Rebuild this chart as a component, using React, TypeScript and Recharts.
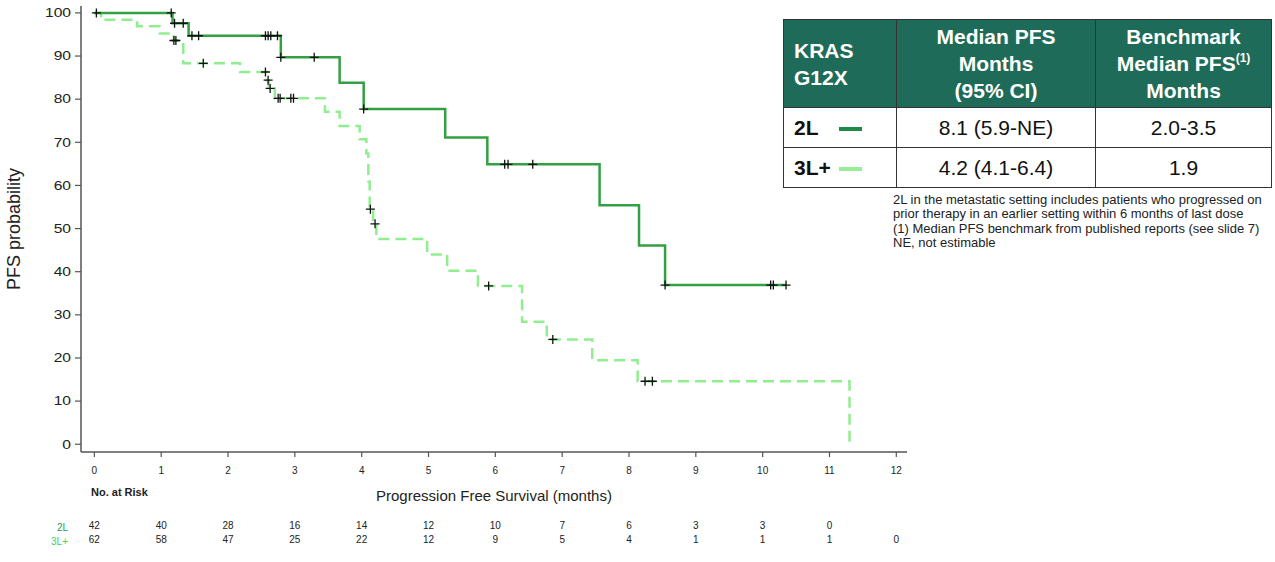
import React from 'react';
import { ComposedChart, Line, Scatter, XAxis, YAxis, Label } from 'recharts';

const xTicks = [0, 1, 2, 3, 4, 5, 6, 7, 8, 9, 10, 11, 12];
const yTicks = [0, 10, 20, 30, 40, 50, 60, 70, 80, 90, 100];

// 2L curve (solid)
const l2Times = [0, 1.17, 1.41, 2.79, 3.67, 4.03, 5.25, 5.88, 7.56, 8.15, 8.54, 10.35];
const l2Surv = [100, 97.6, 94.7, 89.7, 83.8, 77.7, 71.1, 64.9, 55.4, 46.1, 36.9, 36.9];
const l2CensorTimes = [0.03, 1.15, 1.2, 1.33, 1.46, 1.56, 2.56, 2.6, 2.64, 2.74, 2.79, 3.29, 4.03, 6.14, 6.19, 6.56, 8.54, 10.12, 10.16, 10.35];
const l2CensorSurv = [100, 100, 97.6, 97.6, 94.7, 94.7, 94.7, 94.7, 94.7, 94.7, 89.7, 89.7, 77.7, 64.9, 64.9, 64.9, 36.9, 36.9, 36.9, 36.9];

// 3L+ curve (dashed)
const l3Times = [0, 0.1, 0.64, 0.98, 1.19, 1.33, 2.18, 2.58, 2.61, 2.7, 3.45, 3.67, 3.97, 4.07, 4.1, 4.12, 4.17, 4.22, 4.98, 5.28, 5.74, 6.4, 6.77, 7.45, 8.13, 11.3];
const l3Surv = [100, 98.4, 96.9, 95.2, 93.6, 88.3, 86.3, 84.4, 82.5, 80.2, 77.1, 73.8, 70.7, 67.4, 60.9, 54.5, 51.1, 47.6, 44.0, 40.2, 36.7, 28.4, 24.3, 19.5, 14.6, 0];
const l3CensorTimes = [1.19, 1.22, 1.63, 2.56, 2.6, 2.63, 2.75, 2.78, 2.94, 2.98, 4.13, 4.2, 5.9, 6.86, 8.24, 8.35];
const l3CensorSurv = [93.6, 93.6, 88.3, 86.3, 84.4, 82.5, 80.2, 80.2, 80.2, 80.2, 54.5, 51.1, 36.7, 24.3, 14.6, 14.6];

// number at risk, one per month tick
const risk2L = [42, 40, 28, 16, 14, 12, 10, 7, 6, 3, 3, 0];
const risk3L = [62, 58, 47, 25, 22, 12, 9, 5, 4, 1, 1, 1, 0];

const footnotes = [
    '2L in the metastatic setting includes patients who progressed on',
    'prior therapy in an earlier setting within 6 months of last dose',
    '(1) Median PFS benchmark from published reports (see slide 7)',
    'NE, not estimable',
];

const FONT = '"Liberation Sans", Arial, Helvetica, sans-serif';
const DARK = '#33a043';
const LIGHT = '#90ee90';

const toPoints = (ts: number[], ss: number[]) => ts.map((t, i) => ({ t, s: ss[i] }));

const Cross = (props: any) => {
    const { cx, cy } = props;
    if (cx == null || cy == null) return null;
    return (
        <path
            d={`M${cx - 4.5},${cy}H${cx + 4.5}M${cx},${cy - 4.5}V${cy + 4.5}`}
            stroke="#111"
            strokeWidth={1.3}
            fill="none"
        />
    );
};

const YTick = ({ x, y, payload }: any) => (
    <text
        transform={`translate(${x},${y}) scale(1.3,1)`}
        textAnchor="end"
        dy="0.36em"
        fontSize={12}
        fill="#222"
    >
        {payload.value}
    </text>
);

// month label plus the two at-risk rows underneath it
const XTick = ({ x, y, payload }: any) => {
    const i = payload.value;
    const a = risk2L[i];
    const b = risk3L[i];
    return (
        <g fontSize={10} fill="#222" textAnchor="middle">
            <text x={x} y={y} dy="0.71em">{i}</text>
            {a !== undefined && <text x={x} y={y + 55} dy="0.71em">{a}</text>}
            {b !== undefined && <text x={x} y={y + 69} dy="0.71em">{b}</text>}
        </g>
    );
};

const cellBorder = '1.5px solid #333';

export default function App() {
    const l2 = toPoints(l2Times, l2Surv);
    const l3 = toPoints(l3Times, l3Surv);
    const c2 = toPoints(l2CensorTimes, l2CensorSurv);
    const c3 = toPoints(l3CensorTimes, l3CensorSurv);

    const th: React.CSSProperties = {
        border: cellBorder,
        fontWeight: 700,
        fontSize: 21,
        lineHeight: '27px',
        color: '#fff',
        padding: 0,
    };
    const td: React.CSSProperties = {
        border: cellBorder,
        fontSize: 21,
        color: '#111',
        textAlign: 'center',
        padding: 0,
    };

    return (
        <div style={{ position: 'absolute', left: 0, top: 0, width: 1275, height: 562, background: '#fff', fontFamily: FONT }}>
            <ComposedChart width={1275} height={562} margin={{ top: 6, right: 368, bottom: 14, left: 41 }}>
                <XAxis
                    dataKey="t"
                    type="number"
                    domain={[-0.2, 12.16]}
                    ticks={xTicks}
                    allowDataOverflow
                    interval={0}
                    height={96}
                    tickSize={5}
                    tickMargin={10}
                    tick={<XTick />}
                    axisLine={{ stroke: '#555', strokeWidth: 1.5 }}
                    tickLine={{ stroke: '#555', strokeWidth: 1.2 }}
                >
                    <Label
                        content={({ viewBox }: any) => (
                            <g>
                                <text
                                    x={viewBox.x + viewBox.width / 2}
                                    y={viewBox.y + 49}
                                    textAnchor="middle"
                                    fontSize={15}
                                    fill="#222"
                                >
                                    Progression Free Survival (months)
                                </text>
                                <text x={viewBox.x + 10} y={viewBox.y + 44} fontSize={11} fontWeight={700} fill="#222">
                                    No. at Risk
                                </text>
                                <text x={viewBox.x - 13} y={viewBox.y + 79} textAnchor="end" fontSize={10} fill="#1f9e45">
                                    2L
                                </text>
                                <text x={viewBox.x - 13} y={viewBox.y + 93} textAnchor="end" fontSize={10} fill="#3ad35c">
                                    3L+
                                </text>
                            </g>
                        )}
                    />
                </XAxis>
                <YAxis
                    type="number"
                    domain={[-1.8, 101.6]}
                    ticks={yTicks}
                    allowDataOverflow
                    interval={0}
                    width={40}
                    tickSize={6}
                    tickMargin={4}
                    tick={<YTick />}
                    axisLine={{ stroke: '#555', strokeWidth: 1.5 }}
                    tickLine={{ stroke: '#555', strokeWidth: 1.2 }}
                >
                    <Label
                        content={({ viewBox }: any) => {
                            const cx = viewBox.x - 27;
                            const cy = viewBox.y + viewBox.height / 2;
                            return (
                                <text
                                    x={cx}
                                    y={cy}
                                    transform={`rotate(-90, ${cx}, ${cy})`}
                                    textAnchor="middle"
                                    dominantBaseline="central"
                                    fontSize={18}
                                    fill="#222"
                                >
                                    PFS probability
                                </text>
                            );
                        }}
                    />
                </YAxis>
                <Line
                    data={l3}
                    dataKey="s"
                    type="stepAfter"
                    stroke={LIGHT}
                    strokeWidth={2.5}
                    strokeDasharray="11 6"
                    dot={false}
                    activeDot={false}
                    isAnimationActive={false}
                />
                <Line
                    data={l2}
                    dataKey="s"
                    type="stepAfter"
                    stroke={DARK}
                    strokeWidth={2.5}
                    dot={false}
                    activeDot={false}
                    isAnimationActive={false}
                />
                <Scatter data={c3} dataKey="s" shape={<Cross />} isAnimationActive={false} />
                <Scatter data={c2} dataKey="s" shape={<Cross />} isAnimationActive={false} />
            </ComposedChart>

            <table
                style={{
                    position: 'absolute',
                    left: 783,
                    top: 19,
                    width: 488,
                    height: 169,
                    borderCollapse: 'collapse',
                    tableLayout: 'fixed',
                    fontFamily: FONT,
                }}
            >
                <colgroup>
                    <col style={{ width: 113 }} />
                    <col style={{ width: 199 }} />
                    <col style={{ width: 176 }} />
                </colgroup>
                <tbody>
                    <tr style={{ height: 88, background: '#1f6b59' }}>
                        <th style={{ ...th, textAlign: 'left', paddingLeft: 10 }}>KRAS<br />G12X</th>
                        <th style={th}>Median PFS<br />Months<br />(95% CI)</th>
                        <th style={th}>
                            Benchmark<br />Median PFS<sup style={{ fontSize: 12, verticalAlign: 'top', lineHeight: '12px', position: 'relative', top: 2 }}>(1)</sup>
                            <br />Months
                        </th>
                    </tr>
                    <tr style={{ height: 40 }}>
                        <td style={{ ...td, textAlign: 'left', paddingLeft: 10, fontWeight: 700 }}>
                            2L
                            <span style={{ display: 'inline-block', width: 23, height: 4, background: '#1f8a46', marginLeft: 20, verticalAlign: 'middle' }} />
                        </td>
                        <td style={td}>8.1 (5.9-NE)</td>
                        <td style={td}>2.0-3.5</td>
                    </tr>
                    <tr style={{ height: 40 }}>
                        <td style={{ ...td, textAlign: 'left', paddingLeft: 10, fontWeight: 700 }}>
                            3L+
                            <span style={{ display: 'inline-block', width: 23, height: 4, background: '#98ee98', marginLeft: 8, verticalAlign: 'middle' }} />
                        </td>
                        <td style={td}>4.2 (4.1-6.4)</td>
                        <td style={td}>1.9</td>
                    </tr>
                </tbody>
            </table>

            <div style={{ position: 'absolute', left: 893, top: 193, fontSize: 13, lineHeight: '14.3px', color: '#222', whiteSpace: 'nowrap' }}>
                {footnotes.map((f) => (
                    <div key={f}>{f}</div>
                ))}
            </div>
        </div>
    );
}
